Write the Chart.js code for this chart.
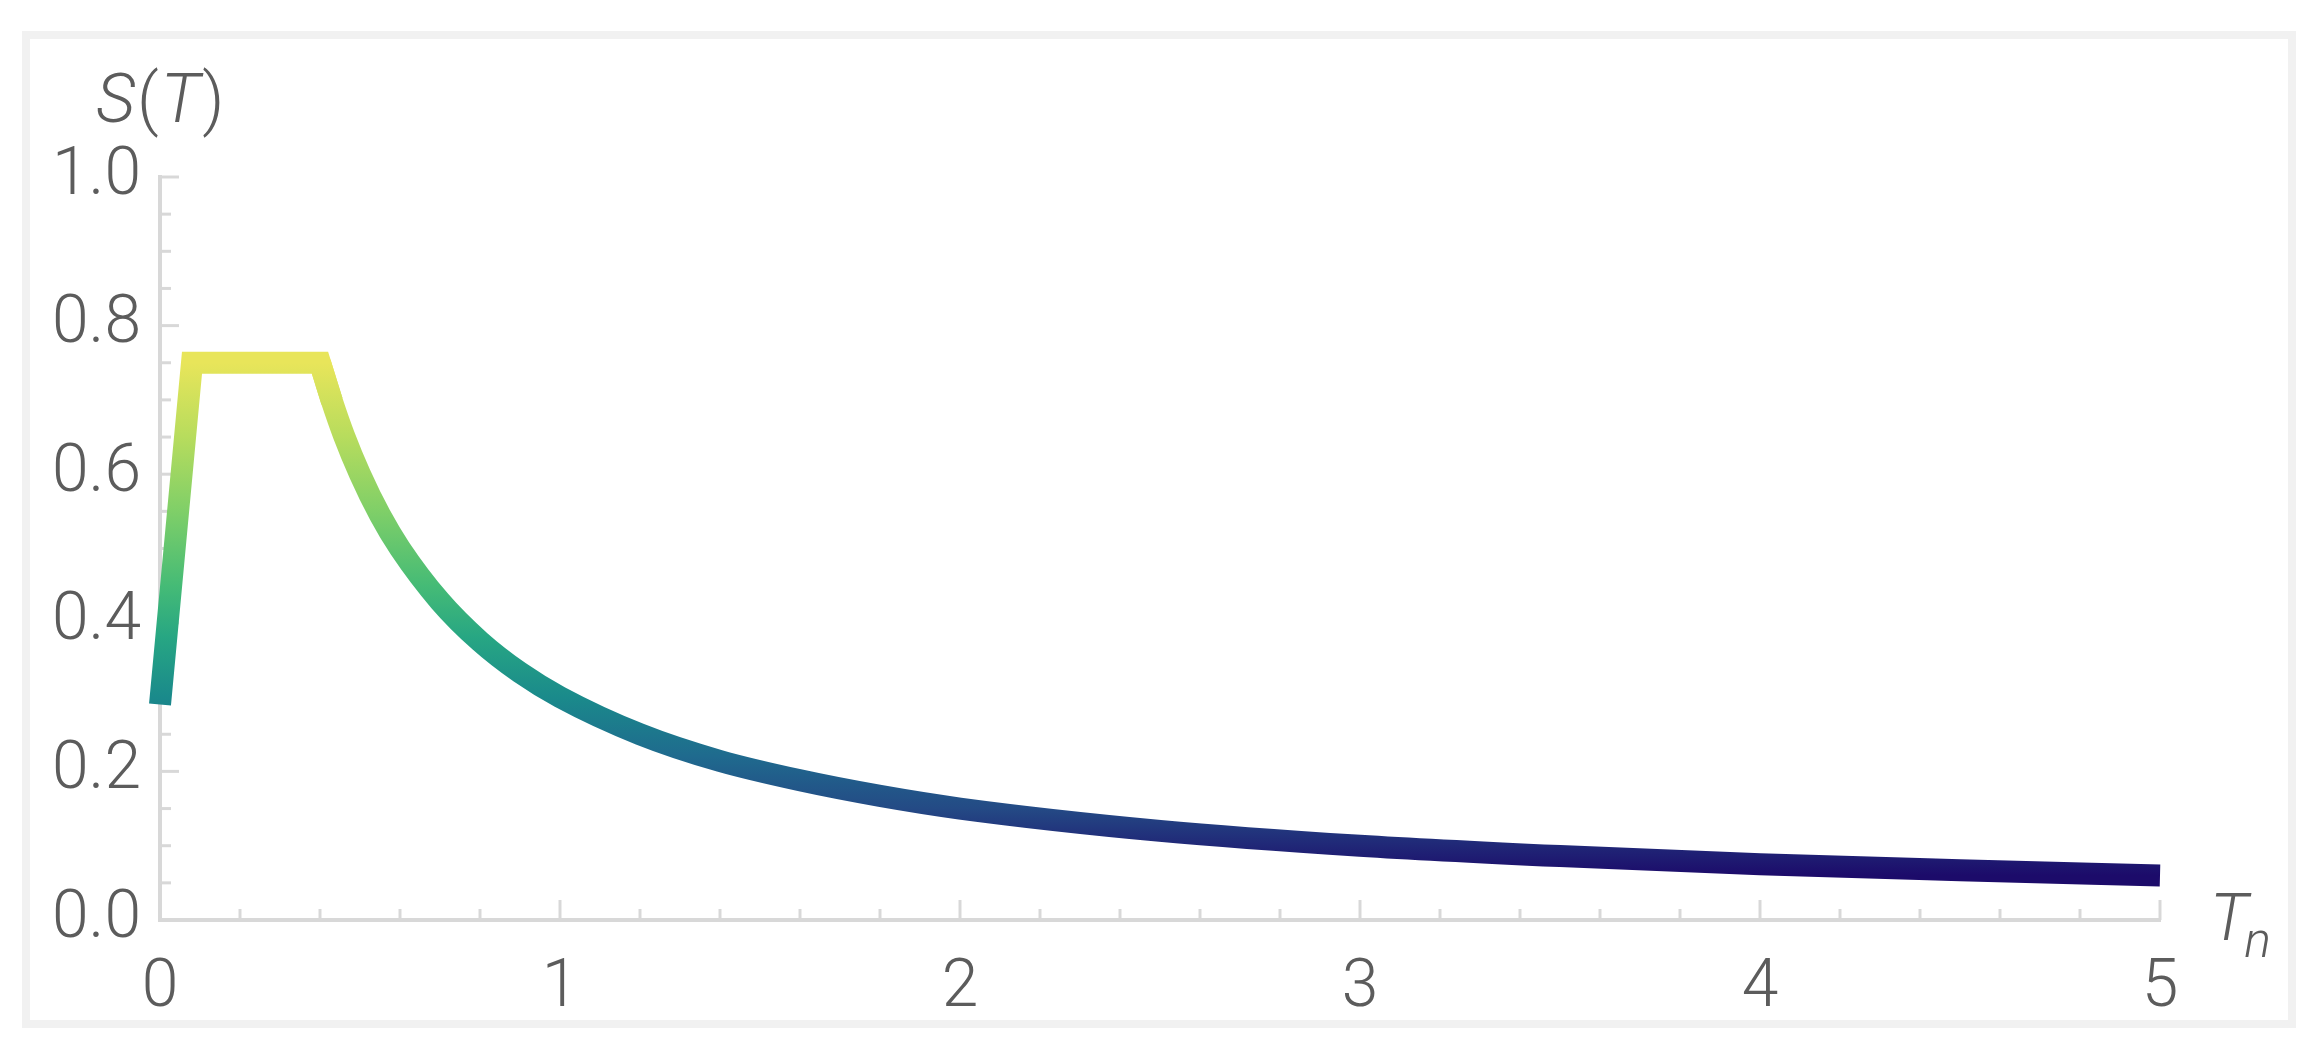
<!DOCTYPE html>
<html>
<head>
    <title>Response Spectrum S(T)</title>
    <meta charset="UTF-8">
    <script src="https://cdn.jsdelivr.net/npm/chart.js"></script>
    <style>
        body { margin: 0; background: #fff; }
        #frame {
            position: absolute; left: 22px; top: 31px;
            width: 2274px; height: 997px;
            box-sizing: border-box; border: 8px solid #f1f1f1;
        }
        #spectrumChart { position: absolute; left: 0; top: 0; }
    </style>
</head>
<body>
    <div id="frame"></div>
    <canvas id="spectrumChart" width="2320" height="1052"></canvas>

    <script>
        // ramp + plateau (straight pieces)
        const risePeriods = [0, 0.08, 0.40, 0.43];
        const riseValues  = [0.29, 0.75, 0.75, 0.698];
        // descending branch (smooth)
        const decayPeriods = [0.40, 0.43, 0.46, 0.50, 0.55, 0.60, 0.70, 0.80, 0.90, 1.0, 1.2, 1.4,
                              1.6, 1.8, 2.0, 2.5, 3.0, 3.5, 4.0, 4.5, 5.0];
        const decayValues  = [0.75, 0.698, 0.652, 0.60, 0.545, 0.50, 0.429, 0.375, 0.333, 0.30, 0.25, 0.214,
                              0.188, 0.167, 0.15, 0.12, 0.10, 0.086, 0.075, 0.067, 0.06];

        const xTickLabels = ['0', '1', '2', '3', '4', '5'];
        const yTickLabels = ['0.0', '0.2', '0.4', '0.6', '0.8', '1.0'];
        const xMinorTicks = [0.2, 0.4, 0.6, 0.8, 1.2, 1.4, 1.6, 1.8, 2.2, 2.4, 2.6, 2.8, 3.2, 3.4, 3.6, 3.8, 4.2, 4.4, 4.6, 4.8];
        const yMinorTicks = [0.05, 0.1, 0.15, 0.25, 0.3, 0.35, 0.45, 0.5, 0.55, 0.65, 0.7, 0.75, 0.85, 0.9, 0.95];

        // colour by height, viridis-like as in the source figure
        const colourStops = [
            [0.06, '#1c0b6a'], [0.10, '#202777'], [0.15, '#244a85'], [0.22, '#1f6a8e'],
            [0.30, '#1a8a8b'], [0.38, '#27a683'], [0.45, '#45bb76'], [0.55, '#7fcf68'],
            [0.65, '#b7dc5d'], [0.75, '#e8e55a']
        ];

        const axisColour = '#d8d8d8';
        const textColour = '#5c5c5c';

        function heightGradient(context) {
            const chart = context.chart;
            if (!chart.chartArea) return '#1a8a8b';
            const y = chart.scales.y;
            const lo = colourStops[0][0], hi = colourStops[colourStops.length - 1][0];
            const g = chart.ctx.createLinearGradient(0, y.getPixelForValue(lo), 0, y.getPixelForValue(hi));
            colourStops.forEach(([v, c]) => g.addColorStop((v - lo) / (hi - lo), c));
            return g;
        }

        // inward tick marks and the axis labels S(T), T_n
        const axisDecor = {
            id: 'axisDecor',
            beforeDatasetsDraw(chart) {
                const ctx = chart.ctx;
                const x = chart.scales.x, y = chart.scales.y;
                const left = chart.chartArea.left, bottom = chart.chartArea.bottom;
                ctx.save();
                ctx.strokeStyle = axisColour;
                ctx.lineWidth = 3;
                const tick = (x0, y0, x1, y1) => { ctx.beginPath(); ctx.moveTo(x0, y0); ctx.lineTo(x1, y1); ctx.stroke(); };
                [0, 1, 2, 3, 4, 5].forEach(v => { const p = x.getPixelForValue(v); tick(p, bottom, p, bottom - 20); });
                xMinorTicks.forEach(v => { const p = x.getPixelForValue(v); tick(p, bottom, p, bottom - 11); });
                [0, 0.2, 0.4, 0.6, 0.8, 1].forEach(v => { const p = y.getPixelForValue(v); tick(left, p, left + 19, p); });
                yMinorTicks.forEach(v => { const p = y.getPixelForValue(v); tick(left, p, left + 11, p); });
                ctx.restore();
            },
            afterDraw(chart) {
                const ctx = chart.ctx;
                ctx.save();
                ctx.fillStyle = textColour;
                ctx.textBaseline = 'alphabetic';
                // S(T)
                let px = 96;
                const parts = [['S', 'italic'], ['(', 'normal'], ['T', 'italic'], [')', 'normal']];
                parts.forEach(([t, style]) => {
                    ctx.font = style + ' 300 68px Roboto';
                    ctx.fillText(t, px, 122);
                    px += ctx.measureText(t).width + 2;
                });
                // T_n
                ctx.font = 'italic 300 66px Roboto';
                ctx.fillText('T', 2210, 940);
                const w = ctx.measureText('T').width;
                ctx.font = 'italic 300 50px Roboto';
                ctx.fillText('n', 2210 + w - 4, 957);
                ctx.restore();
            }
        };

        const lineStyle = {
            showLine: true,
            borderColor: heightGradient,
            borderWidth: 22,
            borderCapStyle: 'butt',
            borderJoinStyle: 'miter',
            pointRadius: 0,
            clip: false
        };

        const ctx = document.getElementById('spectrumChart').getContext('2d');

        new Chart(ctx, {
            type: 'scatter',
            data: {
                datasets: [
                    Object.assign({
                        label: 'S(T) ramp',
                        data: risePeriods.map((t, i) => ({ x: t, y: riseValues[i] })),
                        tension: 0
                    }, lineStyle),
                    Object.assign({
                        label: 'S(T) decay',
                        data: decayPeriods.map((t, i) => ({ x: t, y: decayValues[i] })),
                        cubicInterpolationMode: 'monotone'
                    }, lineStyle)
                ]
            },
            options: {
                responsive: false,
                animation: false,
                layout: { padding: { left: 0, right: 160, top: 177, bottom: 0 } },
                plugins: {
                    legend: { display: false },
                    tooltip: { enabled: false }
                },
                scales: {
                    x: {
                        type: 'linear',
                        min: 0, max: 5,
                        afterFit: s => { s.height = 132; },
                        grid: { display: false, drawTicks: false },
                        border: { display: true, color: axisColour, width: 4 },
                        ticks: {
                            stepSize: 1,
                            padding: 30,
                            color: textColour,
                            font: { family: 'Roboto', size: 66, weight: '300' },
                            maxRotation: 0,
                            callback: (v, i) => xTickLabels[i]
                        }
                    },
                    y: {
                        type: 'linear',
                        min: 0, max: 1,
                        afterFit: s => { s.width = 160; },
                        grid: { display: false, drawTicks: false },
                        border: { display: true, color: axisColour, width: 4 },
                        ticks: {
                            stepSize: 0.2,
                            padding: 19,
                            color: textColour,
                            font: { family: 'Roboto', size: 66, weight: '300' },
                            callback: (v, i) => yTickLabels[i]
                        }
                    }
                }
            },
            plugins: [axisDecor]
        });
    </script>
</body>
</html>
